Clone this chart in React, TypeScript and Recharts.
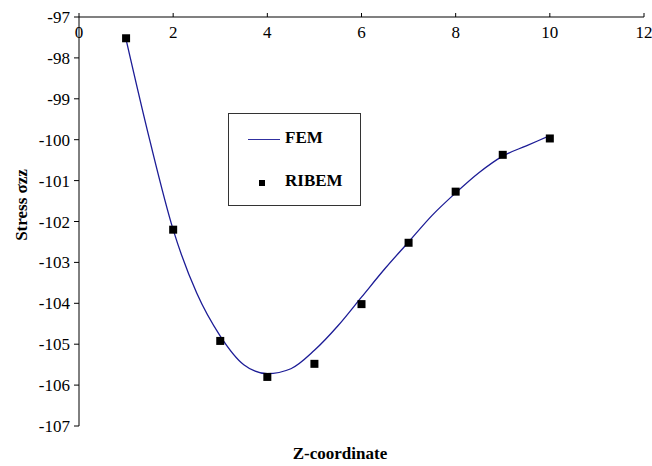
import React from "react";
import {
  ComposedChart,
  Line,
  Scatter,
  XAxis,
  YAxis,
} from "recharts";

const xTicks = [0, 2, 4, 6, 8, 10, 12];
const yTicks = [-107, -106, -105, -104, -103, -102, -101, -100, -99, -98, -97];

const femZ = [1, 1.5, 2, 2.5, 3, 3.5, 4, 4.5, 5, 5.5, 6, 6.5, 7, 7.5, 8, 8.5, 9, 9.5, 10];
const femStress = [
  -97.55, -100.0, -102.2, -103.75, -104.8, -105.5, -105.72, -105.6, -105.15,
  -104.55, -103.85, -103.15, -102.5, -101.85, -101.3, -100.8, -100.4, -100.15, -99.9,
];

const ribemZ = [1, 2, 3, 4, 5, 6, 7, 8, 9, 10];
const ribemStress = [
  -97.52, -102.2, -104.92, -105.8, -105.48, -104.02, -102.52, -101.27, -100.37, -99.97,
];

const femData = femZ.map((z, i) => ({ z, fem: femStress[i] }));
const ribemData = ribemZ.map((z, i) => ({ z, ribem: ribemStress[i] }));

const FONT = "'Liberation Serif', 'DejaVu Serif Condensed', 'DejaVu Serif', serif";

function TopTick(props: any) {
  const { x, y, payload } = props;
  // axis is on top, labels sit under the line
  return (
    <text x={x} y={y + 27} textAnchor="middle" style={{ fontFamily: FONT }} fontSize={17} fill="#000">
      {payload.value}
    </text>
  );
}

function LeftTick(props: any) {
  const { x, y, payload } = props;
  return (
    <text x={x} y={y + 6} textAnchor="end" style={{ fontFamily: FONT }} fontSize={17} fill="#000">
      {payload.value}
    </text>
  );
}

function Square(props: any) {
  const { cx, cy } = props;
  return <rect x={cx - 4} y={cy - 4} width={8} height={8} fill="#000" />;
}

export default function App() {
  return (
    <div style={{ position: "absolute", left: 0, top: 0, width: 652, height: 466, background: "#fff" }}>
      <ComposedChart
        width={652}
        height={466}
        margin={{ top: 16, right: 8, bottom: 40, left: 0 }}
      >
        <XAxis
          dataKey="z"
          type="number"
          orientation="top"
          domain={[0, 12]}
          ticks={xTicks}
          height={1}
          tickSize={4}
          tick={<TopTick />}
          axisLine={{ stroke: "#808080", strokeWidth: 2 }}
          tickLine={{ stroke: "#000" }}
          allowDataOverflow
        />
        <YAxis
          type="number"
          domain={[-107, -97]}
          ticks={yTicks}
          width={79}
          tickSize={5}
          tickMargin={4}
          interval={0}
          axisLine={{ stroke: "#000" }}
          tickLine={{ stroke: "#000" }}
          tick={<LeftTick />}
        />
        <Line
          data={femData}
          dataKey="fem"
          name="FEM"
          type="monotone"
          stroke="#1c1c96"
          strokeWidth={1.3}
          dot={false}
          isAnimationActive={false}
        />
        <Scatter
          data={ribemData}
          dataKey="ribem"
          name="RIBEM"
          shape={<Square />}
          isAnimationActive={false}
        />
      </ComposedChart>

      {/* legend box */}
      <div
        style={{
          position: "absolute",
          left: 228,
          top: 113,
          width: 131,
          height: 91,
          border: "1px solid #333",
          background: "#fff",
          fontFamily: FONT,
          fontWeight: "bold",
          fontSize: 17,
        }}
      >
        <div style={{ position: "absolute", left: 19, top: 25, width: 32, borderTop: "1.5px solid #3030a0" }} />
        <div style={{ position: "absolute", left: 56, top: 14 }}>FEM</div>
        <div style={{ position: "absolute", left: 30, top: 66, width: 6, height: 6, background: "#000" }} />
        <div style={{ position: "absolute", left: 56, top: 57 }}>RIBEM</div>
      </div>

      <div
        style={{
          position: "absolute",
          left: 8,
          top: 205,
          transform: "translate(-50%, -50%) rotate(-90deg)",
          transformOrigin: "center",
          whiteSpace: "nowrap",
          fontFamily: FONT,
          fontWeight: "bold",
          fontSize: 17,
          marginLeft: 14,
        }}
      >
        Stress σzz
      </div>

      <div
        style={{
          position: "absolute",
          left: 0,
          width: 652,
          top: 444,
          textAlign: "center",
          paddingLeft: 28,
          boxSizing: "border-box",
          fontFamily: FONT,
          fontWeight: "bold",
          fontSize: 17,
        }}
      >
        Z-coordinate
      </div>
    </div>
  );
}
